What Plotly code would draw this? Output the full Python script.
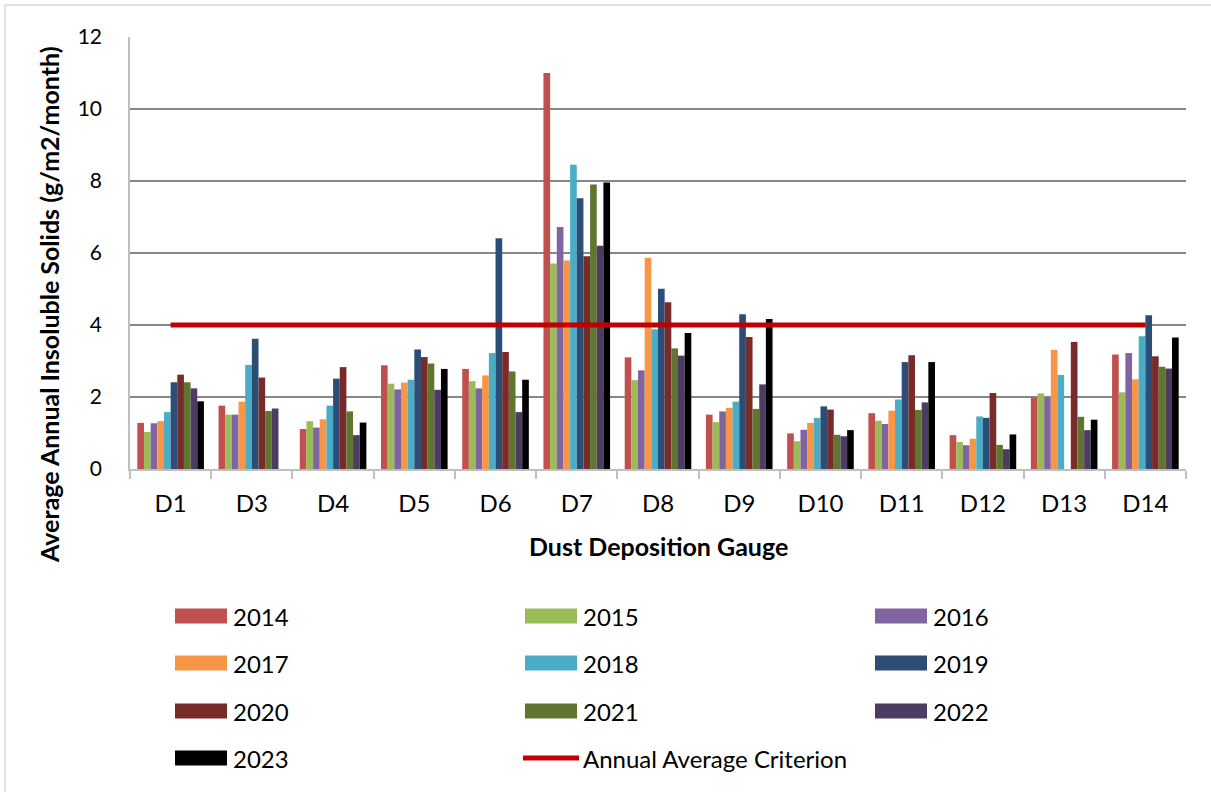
import plotly.graph_objects as go

# Dust deposition gauges (x categories)
gauges = ["D1", "D3", "D4", "D5", "D6", "D7", "D8", "D9", "D10", "D11", "D12", "D13", "D14"]

# Average annual insoluble solids (g/m2/month) per year; None = no result
y2014 = [1.28, 1.76, 1.11, 2.88, 2.78, 11.0, 3.10, 1.51, 0.99, 1.55, 0.94, 1.98, 3.18]
y2015 = [1.03, 1.51, 1.33, 2.37, 2.44, 5.71, 2.47, 1.30, 0.77, 1.34, 0.75, 2.10, 2.13]
y2016 = [1.27, 1.51, 1.15, 2.21, 2.24, 6.72, 2.74, 1.60, 1.09, 1.25, 0.66, 1.98, 3.22]
y2017 = [1.33, 1.87, 1.38, 2.40, 2.60, 5.79, 5.87, 1.70, 1.28, 1.62, 0.84, 3.31, 2.49]
y2018 = [1.58, 2.89, 1.76, 2.48, 3.22, 8.45, 3.88, 1.87, 1.42, 1.93, 1.46, 2.61, 3.69]
y2019 = [2.41, 3.62, 2.51, 3.32, 6.41, 7.52, 5.01, 4.30, 1.74, 2.97, 1.42, None, 4.27]
y2020 = [2.62, 2.54, 2.83, 3.11, 3.25, 5.91, 4.63, 3.67, 1.65, 3.16, 2.11, 3.53, 3.13]
y2021 = [2.41, 1.61, 1.60, 2.93, 2.71, 7.90, 3.35, 1.67, 0.95, 1.64, 0.67, 1.45, 2.84]
y2022 = [2.24, 1.68, 0.94, 2.20, 1.58, 6.20, 3.15, 2.35, 0.91, 1.85, 0.55, 1.08, 2.79]
y2023 = [1.88, None, 1.29, 2.78, 2.48, 7.96, 3.78, 4.17, 1.08, 2.97, 0.96, 1.37, 3.65]

years = ["2014", "2015", "2016", "2017", "2018", "2019", "2020", "2021", "2022", "2023"]
series = [y2014, y2015, y2016, y2017, y2018, y2019, y2020, y2021, y2022, y2023]
colors = ["#C0504D", "#9BBB59", "#8064A2", "#F79646", "#4BACC6",
          "#2C4D75", "#772C2A", "#5F7530", "#4D3B62", "#000000"]

criterion_label = "Annual Average Criterion"
criterion = [4] * len(gauges)
criterion_color = "#C00000"

FONT = "Lato, 'Open Sans', sans-serif"

# plot area in pixels
W, H = 1211, 792
L, R, T, B = 130, 1186, 37, 469
PW, PH = R - L, B - T


def px(xp):
    return (xp - L) / PW


def py(yp):
    return (B - yp) / PH


fig = go.Figure()
for name, vals, col in zip(years, series, colors):
    fig.add_trace(go.Bar(x=gauges, y=vals, name=name, marker=dict(color=col, line=dict(width=0)),
                         showlegend=False))

fig.add_trace(go.Scatter(x=gauges, y=criterion, mode="lines", name=criterion_label,
                         line=dict(color=criterion_color, width=5), showlegend=False))

shapes = []
annotations = []

# outer chart border (left and top edges)
shapes.append(dict(type="line", xref="paper", yref="paper", x0=px(5), x1=px(5), y0=py(5), y1=py(800),
                   line=dict(color="#D9D9D9", width=1.5)))
shapes.append(dict(type="line", xref="paper", yref="paper", x0=px(5), x1=px(1215), y0=py(5), y1=py(5),
                   line=dict(color="#D9D9D9", width=1.5)))

# legend: three columns
col_x = [175, 525, 875]
row_y = [616, 663, 711, 758]
entries = [(y, c, "bar") for y, c in zip(years, colors)] + [(criterion_label, criterion_color, "line")]
for i, (label, col, kind) in enumerate(entries):
    cx = col_x[i % 3]
    cy = row_y[i // 3]
    if kind == "bar":
        shapes.append(dict(type="rect", xref="paper", yref="paper",
                           x0=px(cx), x1=px(cx + 52), y0=py(cy - 7.5), y1=py(cy + 7.5),
                           fillcolor=col, line=dict(width=0)))
    else:
        shapes.append(dict(type="line", xref="paper", yref="paper",
                           x0=px(cx - 2), x1=px(cx + 54), y0=py(cy), y1=py(cy),
                           line=dict(color=col, width=5)))
    annotations.append(dict(xref="paper", yref="paper", x=px(cx + 56), y=py(cy), text=label,
                            showarrow=False, xanchor="left", yanchor="middle",
                            font=dict(family=FONT, size=24, color="#000000")))

# axis titles
annotations.append(dict(xref="paper", yref="paper", x=px(49), y=py(305), textangle=-90,
                        text="<b>Average Annual Insoluble Solids (g/m2/month)</b>", showarrow=False,
                        xanchor="center", yanchor="middle",
                        font=dict(family=FONT, size=25, color="#000000")))
annotations.append(dict(xref="paper", yref="paper", x=px(658), y=py(546),
                        text="<b>Dust Deposition Gauge</b>", showarrow=False,
                        xanchor="center", yanchor="middle",
                        font=dict(family=FONT, size=25, color="#000000")))

fig.update_layout(
    width=W, height=H,
    margin=dict(l=L, r=W - R, t=T, b=H - B, autoexpand=False),
    paper_bgcolor="white", plot_bgcolor="white",
    barmode="group", bargap=0.18, bargroupgap=0,
    font=dict(family=FONT, color="#000000"),
    shapes=shapes, annotations=annotations,
    showlegend=False,
    xaxis=dict(type="category", categoryorder="array", categoryarray=gauges,
               range=[-0.5, len(gauges) - 0.5],
               tickson="boundaries", ticks="outside", ticklen=8, tickwidth=1.5, tickcolor="#BFBFBF",
               showline=True, linecolor="#BFBFBF", linewidth=1.5, showgrid=False,
               tickfont=dict(family=FONT, size=24, color="#000000"), ticklabelstandoff=12),
    yaxis=dict(range=[0, 12], dtick=2, tick0=0, showgrid=True, gridcolor="#878787", gridwidth=1.5,
               zeroline=False, showline=True, linecolor="#BFBFBF", linewidth=1.5, ticks="",
               tickfont=dict(family=FONT, size=21, color="#000000"), ticklabelstandoff=22),
)

fig.write_html("out.html")
